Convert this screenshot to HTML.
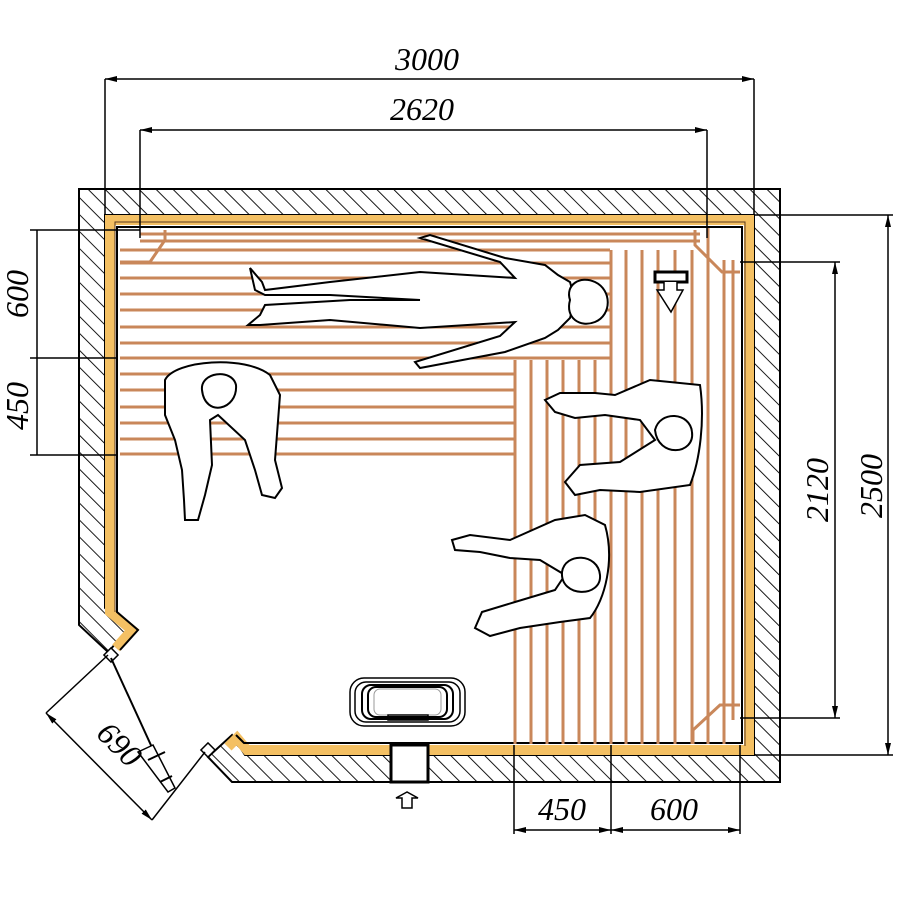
<!DOCTYPE html>
<html><head><meta charset="utf-8"><style>
html,body{margin:0;padding:0;background:#fff;width:900px;height:900px;overflow:hidden}
text{font-family:"Liberation Serif",serif;font-style:italic;font-size:32px;fill:#000}
</style></head><body>
<svg width="900" height="900" viewBox="0 0 900 900" xmlns="http://www.w3.org/2000/svg">
<defs>
<pattern id="h" width="12" height="12" patternUnits="userSpaceOnUse" patternTransform="rotate(-45)">
<line x1="0" y1="0" x2="0" y2="12" stroke="#000" stroke-width="1.8"/>
</pattern>
<marker id="a" markerWidth="12" markerHeight="6" refX="12" refY="3" orient="auto" markerUnits="userSpaceOnUse"><path d="M0,0 L12,3 L0,6 Z" fill="#000"/></marker>
<marker id="b" markerWidth="12" markerHeight="6" refX="0" refY="3" orient="auto" markerUnits="userSpaceOnUse"><path d="M12,0 L0,3 L12,6 Z" fill="#000"/></marker>
</defs>

<!-- walls -->
<path d="M79,189 H780 V782 H232 L208,757 L232,735 L245,755 H754 V215 H105 V608 L128,630 L108,652 L79,625 Z" fill="url(#h)" stroke="#000" stroke-width="2"/>
<!-- yellow band -->
<path d="M116,648 L132,630 L110,612 V220 H749 V750 H247 L237,738 L228,747" fill="none" stroke="#f4c063" stroke-width="10"/>
<path d="M120,650 L138,630 L117,612 V227 H742 V743 H244 L236,735" fill="none" stroke="#000" stroke-width="2"/>
<path d="M115,612 V222 H745 V746" fill="none" stroke="#5a3a20" stroke-width="1"/>

<!-- horizontal slats -->
<g stroke="#c9875a" stroke-width="3">
<line x1="140" y1="234" x2="700" y2="234"/>
<line x1="140" y1="241" x2="700" y2="241"/>
<line x1="120" y1="250" x2="610" y2="250"/>
<line x1="120" y1="263" x2="610" y2="263"/>
<line x1="120" y1="278" x2="610" y2="278"/>
<line x1="120" y1="294" x2="610" y2="294"/>
<line x1="120" y1="310" x2="610" y2="310"/>
<line x1="120" y1="327" x2="610" y2="327"/>
<line x1="120" y1="343" x2="610" y2="343"/>
<line x1="120" y1="358" x2="610" y2="358"/>
<line x1="120" y1="374" x2="514" y2="374"/>
<line x1="120" y1="390" x2="514" y2="390"/>
<line x1="120" y1="407" x2="514" y2="407"/>
<line x1="120" y1="423" x2="514" y2="423"/>
<line x1="120" y1="439" x2="514" y2="439"/>
<line x1="120" y1="454" x2="514" y2="454"/>
</g>
<!-- vertical slats -->
<g stroke="#c9875a" stroke-width="3">
<line x1="515" y1="360" x2="515" y2="744"/>
<line x1="531" y1="360" x2="531" y2="744"/>
<line x1="547" y1="360" x2="547" y2="744"/>
<line x1="563" y1="360" x2="563" y2="744"/>
<line x1="579" y1="360" x2="579" y2="744"/>
<line x1="595" y1="360" x2="595" y2="744"/>
<line x1="611" y1="250" x2="611" y2="744"/>
<line x1="626" y1="250" x2="626" y2="744"/>
<line x1="642" y1="250" x2="642" y2="744"/>
<line x1="658" y1="250" x2="658" y2="744"/>
<line x1="675" y1="250" x2="675" y2="744"/>
<line x1="692" y1="250" x2="692" y2="744"/>
<line x1="708" y1="228" x2="708" y2="744"/>
<line x1="724" y1="260" x2="724" y2="744"/>
<line x1="733" y1="260" x2="733" y2="720"/>
</g>
<!-- corner braces -->
<g fill="none" stroke="#c9875a" stroke-width="3">
<path d="M165,230 V240 L150,262 H120"/>
<path d="M695,230 V245 L722,272 H740"/>
<path d="M693,744 V730 L720,705 H740"/>
</g>

<!-- lying person -->
<g fill="#fff" stroke="#000" stroke-width="2">
<path d="M250,268 L262,282 L265,290 L330,282 L420,272 L515,278 L500,262 L420,238 L430,235 L505,258 L545,265 L558,275 L570,282 L575,300 L570,318 L558,330 L545,338 L505,352 L420,368 L415,362 L500,336 L515,322 L420,328 L330,320 L260,325 L248,325 L260,315 L265,305 L350,300 L420,300 L330,295 L265,295 L255,290 Z"/>
<path d="M570,300 C565,285 580,275 595,282 C612,290 612,315 595,322 C580,328 565,318 570,300 Z"/>
</g>
<!-- seated person left -->
<g fill="#fff" stroke="#000" stroke-width="2">
<path d="M165,380 C175,360 245,355 270,375 L280,395 L275,460 L282,488 L275,498 L262,495 L255,470 L245,440 L218,415 L210,420 L212,465 L205,495 L198,520 L185,520 L184,500 L182,470 L175,440 L165,415 Z"/>
<path d="M202,390 C200,372 232,368 236,385 C238,410 205,418 202,390 Z"/>
</g>
<!-- seated person right top -->
<g fill="#fff" stroke="#000" stroke-width="2">
<path d="M700,385 C705,420 700,460 690,485 L640,492 L600,490 L575,495 L565,482 L580,465 L620,462 L655,440 L640,420 L605,415 L575,418 L555,412 L545,400 L560,393 L595,393 L615,395 L650,380 Z"/>
<path d="M655,430 C660,410 690,412 692,432 C695,455 658,458 655,430 Z"/>
</g>
<!-- seated person right bottom -->
<g fill="#fff" stroke="#000" stroke-width="2">
<path d="M605,525 C615,560 605,600 590,618 L560,622 L520,628 L490,636 L475,628 L482,612 L515,602 L555,590 L565,575 L540,560 L510,558 L480,552 L455,550 L452,540 L470,535 L510,540 L555,520 L585,515 Z"/>
<path d="M562,572 C565,552 598,553 600,575 C602,598 560,598 562,572 Z"/>
</g>

<!-- ventilation top right -->
<rect x="655" y="272" width="32" height="10" fill="#fff" stroke="#000" stroke-width="3"/>
<path d="M664,282 V290 H657 L671,312 L683,290 H677 V282" fill="#fff" stroke="#000" stroke-width="1.5"/>

<!-- heater -->
<g fill="none" stroke="#000">
<rect x="350" y="678" width="115" height="48" rx="14" stroke-width="1.5"/>
<rect x="355" y="682" width="105" height="40" rx="11" stroke-width="1.5"/>
<rect x="362" y="685" width="91" height="34" rx="9" stroke-width="2"/>
<rect x="368" y="687" width="79" height="30" rx="8" stroke-width="2"/>
<rect x="374" y="689" width="67" height="26" rx="6" stroke="#999" stroke-width="1"/>
<rect x="388" y="715" width="40" height="5" stroke-width="1.5"/>
</g>

<!-- bottom vent -->
<rect x="391" y="745" width="37" height="37" fill="#fff" stroke="#000" stroke-width="3"/>
<path d="M407,792 L396,798 H402 V808 H412 V798 H418 Z" fill="#fff" stroke="#000" stroke-width="1.5"/>

<!-- door -->
<rect x="106" y="650" width="10" height="10" fill="#fff" stroke="#000" stroke-width="1.5" transform="rotate(45 111 655)"/>
<rect x="203" y="745" width="10" height="10" fill="#fff" stroke="#000" stroke-width="1.5" transform="rotate(45 208 750)"/>
<line x1="111" y1="658" x2="166" y2="778" stroke="#000" stroke-width="2"/>
<path d="M153,745 L138,752 L168,792 L175,788 Z" fill="#fff" stroke="#000" stroke-width="1.5"/>
<line x1="148" y1="760" x2="165" y2="752" stroke="#000" stroke-width="2"/>
<line x1="160" y1="782" x2="172" y2="776" stroke="#000" stroke-width="2"/>

<!-- dimension lines -->
<g stroke="#000" stroke-width="1.5" fill="none">
<line x1="105" y1="79" x2="105" y2="215"/>
<line x1="754" y1="79" x2="754" y2="215"/>
<line x1="105" y1="79" x2="754" y2="79" marker-start="url(#b)" marker-end="url(#a)"/>
<line x1="140" y1="130" x2="140" y2="238"/>
<line x1="707" y1="130" x2="707" y2="238"/>
<line x1="140" y1="130" x2="707" y2="130" marker-start="url(#b)" marker-end="url(#a)"/>
<line x1="30" y1="230" x2="140" y2="230"/>
<line x1="30" y1="358" x2="118" y2="358"/>
<line x1="30" y1="455" x2="118" y2="455"/>
<line x1="37" y1="230" x2="37" y2="455"/>
<line x1="740" y1="262" x2="840" y2="262"/>
<line x1="740" y1="718" x2="840" y2="718"/>
<line x1="835" y1="262" x2="835" y2="718" marker-start="url(#b)" marker-end="url(#a)"/>
<line x1="754" y1="215" x2="893" y2="215"/>
<line x1="754" y1="755" x2="893" y2="755"/>
<line x1="888" y1="215" x2="888" y2="755" marker-start="url(#b)" marker-end="url(#a)"/>
<line x1="514" y1="745" x2="514" y2="834"/>
<line x1="611" y1="745" x2="611" y2="834"/>
<line x1="740" y1="745" x2="740" y2="834"/>
<line x1="514" y1="830" x2="611" y2="830" marker-start="url(#b)" marker-end="url(#a)"/>
<line x1="611" y1="830" x2="740" y2="830" marker-start="url(#b)" marker-end="url(#a)"/>
<line x1="108" y1="655" x2="46" y2="713"/>
<line x1="205" y1="752" x2="152" y2="820"/>
<line x1="46" y1="713" x2="152" y2="820" marker-start="url(#b)" marker-end="url(#a)"/>
</g>
<text x="427" y="70" text-anchor="middle">3000</text>
<text x="422" y="120" text-anchor="middle">2620</text>
<text transform="translate(28,294) rotate(-90)" text-anchor="middle">600</text>
<text transform="translate(28,406) rotate(-90)" text-anchor="middle">450</text>
<text transform="translate(828,490) rotate(-90)" text-anchor="middle">2120</text>
<text transform="translate(882,486) rotate(-90)" text-anchor="middle">2500</text>
<text x="562" y="820" text-anchor="middle">450</text>
<text x="674" y="820" text-anchor="middle">600</text>
<text transform="translate(112,752) rotate(45)" text-anchor="middle">690</text>
</svg>
</body></html>
